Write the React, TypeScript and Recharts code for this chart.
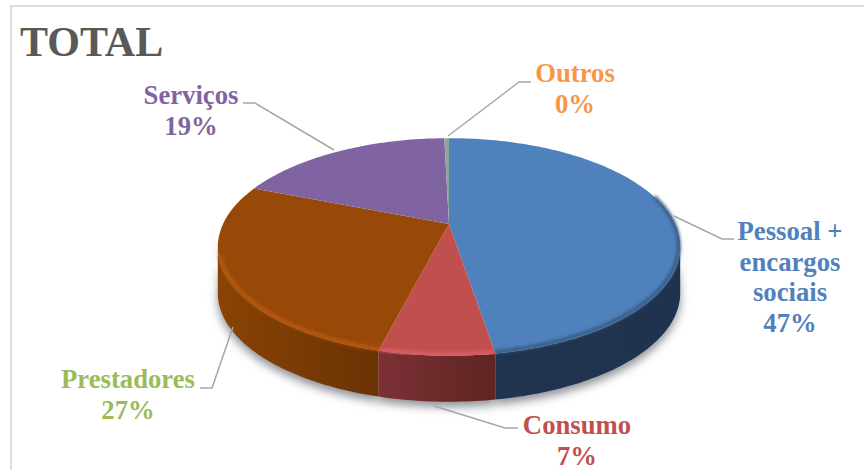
import { Pie, PieChart } from "recharts";

const categories = ["Pessoal + encargos sociais", "Consumo", "Prestadores", "Serviços", "Outros"];
const values = [47.4, 6.6, 27, 18.6, 0.4];
const labelLines = [["Pessoal +", "encargos", "sociais"], ["Consumo"], ["Prestadores"], ["Serviços"], ["Outros"]];
const sliceColors = ["#4f81bd", "#c0504d", "#984807", "#8064a2", "#8fa59c"];
const labelColors = ["#4f81bd", "#c0504d", "#9bbb59", "#8064a2", "#f79646"];
const wallIds = ["wallBlue", "wallRed", "wallBrown", "wallPurple", "wallGray"];
const bevelColors = ["#37597f", "#dc5f68", "#b9590f", "#8064a2", "#8fa59c"];

const data = categories.map((name, i) => ({ name, value: values[i], index: i }));

// where the labels and their leader lines sit
const labelPos = [
  { x: 790, y: 240 },
  { x: 577, y: 434 },
  { x: 128, y: 388 },
  { x: 191, y: 104 },
  { x: 575, y: 82 },
];
const leaders = [
  "674,216 722,239 734,239",
  "434,406 505,428 518,428",
  "233,327 212,388 200,388",
  "334,150 255,103 243,103",
  "448,136 519,82 531,82",
];

const WIDTH = 864;
const HEIGHT = 470;
const SQUASH = 0.46; // vertical radius / horizontal radius
const PERSP = 0.211; // near side of the disc looks bigger
const DEPTH = 46;
const RIM_Y = 247; // widest line of the rim

// clockwise degrees from the top -> screen point on the rim
function rimPoint(cx: number, cy: number, r: number, deg: number) {
  const a = (deg * Math.PI) / 180;
  const u = Math.sin(a);
  const v = -Math.cos(a);
  const w = 1 - PERSP * v;
  return { x: cx + (r * u) / w, y: cy + (r * SQUASH * v) / w };
}

function rimPoints(p: any) {
  const from = 90 - p.startAngle;
  const to = 90 - p.endAngle;
  const steps = Math.max(2, Math.ceil(Math.abs(to - from)));
  const pts = [];
  for (let i = 0; i <= steps; i++) {
    pts.push(rimPoint(p.cx, p.cy, p.outerRadius, from + ((to - from) * i) / steps));
  }
  return pts;
}

const toPath = (pts: { x: number; y: number }[]) =>
  pts.map((q, i) => `${i ? "L" : "M"}${q.x.toFixed(1)} ${q.y.toFixed(1)}`).join(" ");

function wallPath(front: { x: number; y: number }[]) {
  const lower = [...front].reverse().map((q) => ({ x: q.x, y: q.y + DEPTH }));
  return `${toPath(front)} ${toPath(lower).replace("M", "L")} Z`;
}

function ShadowSlice(props: any) {
  const front = rimPoints(props).filter((q) => q.y >= RIM_Y - 12);
  if (front.length < 2) return <g />;
  return <path d={wallPath(front)} fill="#8d8f94" transform="translate(0 5)" filter="url(#soft)" />;
}

function Slice(props: any) {
  const i = props.payload?.index ?? props.index;
  const rim = rimPoints(props);
  const front = rim.filter((q) => q.y >= RIM_Y);
  const edge = rim.filter((q) => q.y >= RIM_Y + 8 || (i === 0 && q.y >= RIM_Y - 50));
  return (
    <g>
      {front.length > 1 && <path d={wallPath(front)} fill={`url(#${wallIds[i]})`} />}
      <path d={`M${props.cx} ${props.cy} ${toPath(rim).replace("M", "L")} Z`} fill={sliceColors[i]} />
      {edge.length > 1 && (
        <path
          d={toPath(edge.map((q) => ({ x: q.x + (q.x > props.cx ? -1.5 : 1.5), y: q.y - 1.5 })))}
          fill="none"
          stroke={bevelColors[i]}
          strokeWidth={4}
          strokeOpacity={0.9}
          filter="url(#bevel)"
        />
      )}
    </g>
  );
}

function SliceLabel(props: any) {
  const i = props.index;
  const pos = labelPos[i];
  const lines = [...labelLines[i], `${Math.round(values[i])}%`];
  return (
    <g>
      <polyline points={leaders[i]} fill="none" stroke="#a6a6a6" strokeWidth={1.5} />
      <text
        x={pos.x}
        y={pos.y}
        textAnchor="middle"
        fill={labelColors[i]}
        fontFamily="'Liberation Serif', serif"
        fontWeight="bold"
        fontSize={26.7}
      >
        {lines.map((line, n) => (
          <tspan key={n} x={pos.x} y={pos.y + n * 30.7}>
            {line}
          </tspan>
        ))}
      </text>
    </g>
  );
}

export default function App() {
  return (
    <div
      style={{
        position: "absolute",
        left: 0,
        top: 0,
        width: WIDTH,
        height: HEIGHT,
        overflow: "hidden",
        background: "#fff",
      }}
    >
      <div
        style={{
          position: "absolute",
          left: 10,
          top: 5,
          width: WIDTH + 20,
          height: HEIGHT + 20,
          border: "2px solid #dcdcdc",
        }}
      />
      <div
        style={{
          position: "absolute",
          left: 20,
          top: 17,
          fontFamily: "'Liberation Serif', serif",
          fontWeight: "bold",
          fontSize: 42,
          lineHeight: "50px",
          color: "#595959",
        }}
      >
        TOTAL
      </div>
      <div style={{ position: "absolute", left: 0, top: 0 }}>
        <PieChart width={WIDTH} height={HEIGHT} margin={{ top: 0, right: 0, bottom: 0, left: 0 }}>
          <defs>
            <filter id="soft" x="-20%" y="-20%" width="140%" height="140%">
              <feGaussianBlur stdDeviation="5" />
            </filter>
            <filter id="bevel" x="-10%" y="-10%" width="120%" height="120%">
              <feGaussianBlur stdDeviation="1.4" />
            </filter>
            <linearGradient id="wallBlue" x1="0" x2="1" y1="0" y2="0">
              <stop offset="0" stopColor="#20344f" />
              <stop offset="1" stopColor="#1f3350" />
            </linearGradient>
            <linearGradient id="wallRed" x1="0" x2="1" y1="0" y2="0">
              <stop offset="0" stopColor="#7c3035" />
              <stop offset="1" stopColor="#5f2522" />
            </linearGradient>
            <linearGradient id="wallBrown" x1="0" x2="1" y1="0" y2="0">
              <stop offset="0" stopColor="#8a4304" />
              <stop offset="1" stopColor="#693303" />
            </linearGradient>
            <linearGradient id="wallPurple" x1="0" x2="1" y1="0" y2="0">
              <stop offset="0" stopColor="#4c3c61" />
              <stop offset="1" stopColor="#4c3c61" />
            </linearGradient>
            <linearGradient id="wallGray" x1="0" x2="1" y1="0" y2="0">
              <stop offset="0" stopColor="#66766f" />
              <stop offset="1" stopColor="#66766f" />
            </linearGradient>
          </defs>
          <Pie
            data={data}
            dataKey="value"
            nameKey="name"
            cx={449}
            cy={224}
            outerRadius={226}
            startAngle={90}
            endAngle={-270}
            stroke="none"
            shape={ShadowSlice}
            isAnimationActive={false}
          />
          <Pie
            data={data}
            dataKey="value"
            nameKey="name"
            cx={449}
            cy={224}
            outerRadius={226}
            startAngle={90}
            endAngle={-270}
            stroke="none"
            shape={Slice}
            label={SliceLabel}
            labelLine={false}
            isAnimationActive={false}
          />
        </PieChart>
      </div>
    </div>
  );
}
